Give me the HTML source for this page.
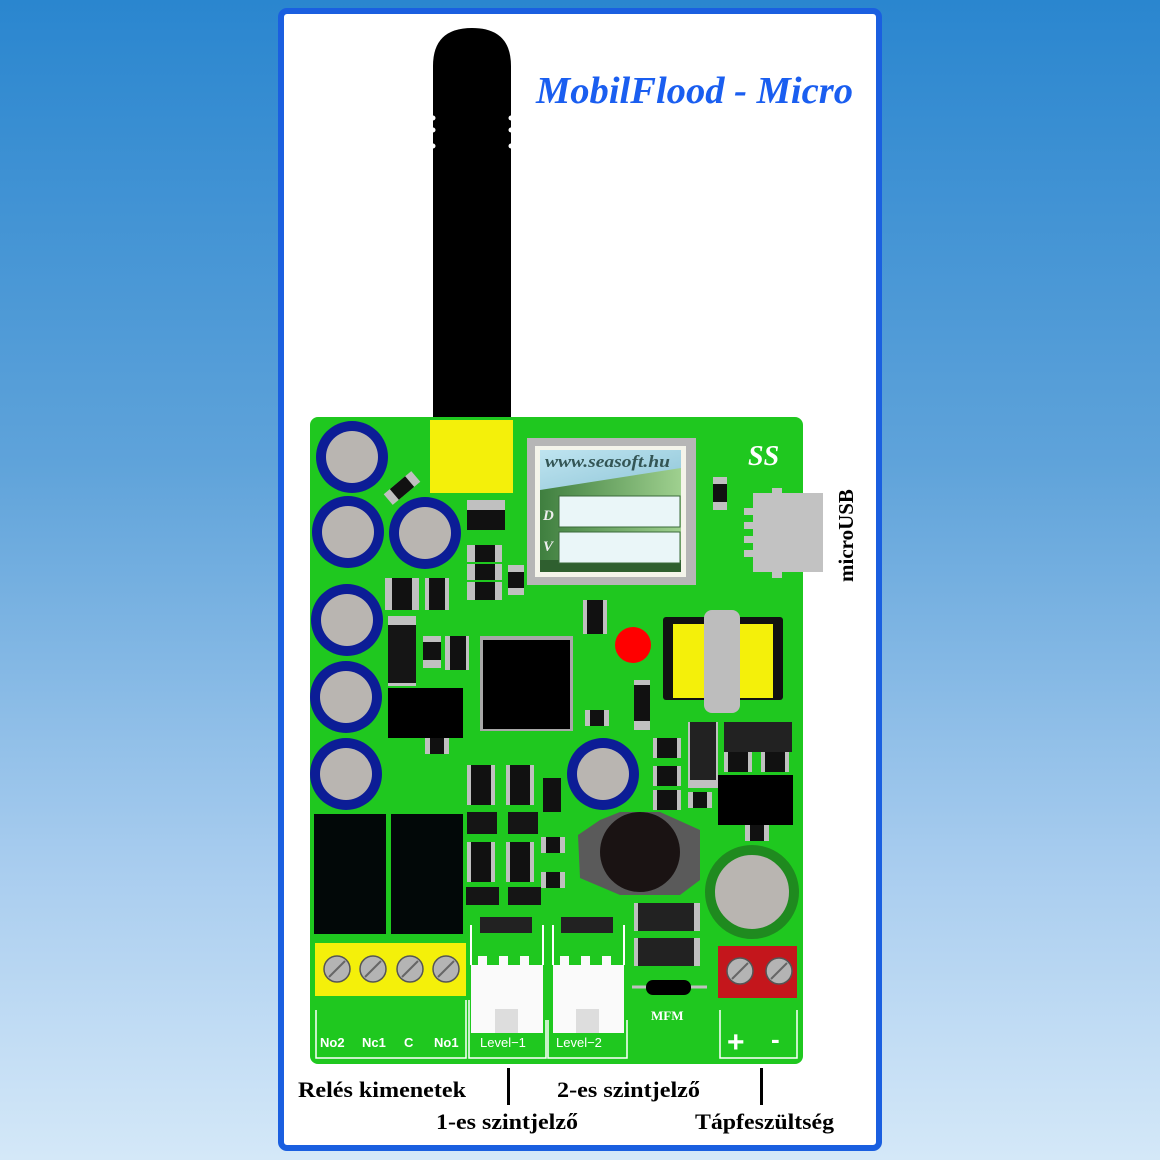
<!DOCTYPE html>
<html><head><meta charset="utf-8"><style>
html,body{margin:0;padding:0}
body{width:1160px;height:1160px;overflow:hidden;background:linear-gradient(#2a86cf 0%,#5fa3da 40%,#a9cdef 75%,#d4e8f8 100%)}
svg{position:absolute;left:0;top:0}
</style></head><body>
<svg width="1160" height="1160" viewBox="0 0 1160 1160" xmlns="http://www.w3.org/2000/svg">
<defs>
<linearGradient id="lab" x1="0" y1="0" x2="1" y2="1">
<stop offset="0" stop-color="#bfe4f0"/><stop offset="1" stop-color="#8fc6d8"/></linearGradient>
<linearGradient id="labg" x1="0" y1="0" x2="1" y2="0">
<stop offset="0" stop-color="#3f7f3f"/><stop offset="1" stop-color="#9fd08f"/></linearGradient>
<g id="cap"><circle r="36" fill="#0c1d96"/><circle r="26" fill="#b9b5b1"/></g>
<g id="scr"><circle r="13" fill="#b4b4b4" stroke="#555" stroke-width="1.5"/><line x1="-8" y1="8" x2="8" y2="-8" stroke="#666" stroke-width="2"/></g>
<g id="sm"><rect x="-12" y="-8" width="24" height="16" fill="#c0c0c0"/><rect x="-7" y="-8" width="14" height="16" fill="#111"/></g>
<g id="sq"><rect x="-14" y="-10" width="28" height="20" fill="#c0c0c0"/><rect x="-10" y="-10" width="20" height="20" fill="#111"/></g>
</defs>
<rect x="281" y="11" width="598" height="1137" rx="6" fill="#fff" stroke="#1a5fe0" stroke-width="6"/>
<!-- antenna -->
<path d="M433 420 V66 Q433 28 472 28 Q511 28 511 66 V420 Z" fill="#000"/>
<g fill="#fff"><circle cx="433" cy="118" r="2.5"/><circle cx="433" cy="130" r="2.5"/><circle cx="433" cy="146" r="2.5"/><circle cx="511" cy="118" r="2.5"/><circle cx="511" cy="130" r="2.5"/><circle cx="511" cy="146" r="2.5"/></g>
<text x="536" y="103" textLength="317" lengthAdjust="spacingAndGlyphs" font-family="Liberation Serif,serif" font-weight="bold" font-style="italic" font-size="38" fill="#1a5ef0">MobilFlood - Micro</text>
<!-- PCB -->
<rect x="310" y="417" width="493" height="647" rx="8" fill="#1fc81f"/>
<rect x="430" y="420" width="83" height="73" fill="#f4f00a"/>
<use href="#cap" x="352" y="457"/><use href="#cap" x="348" y="532"/><use href="#cap" x="425" y="533"/>
<use href="#cap" x="347" y="620"/><use href="#cap" x="346" y="697"/><use href="#cap" x="346" y="774"/><use href="#cap" x="603" y="774"/>
<g transform="translate(402,488) rotate(-40)"><rect x="-18" y="-7" width="36" height="14" fill="#c0c0c0"/><rect x="-10" y="-7" width="20" height="14" fill="#111"/></g>
<!-- label module -->
<rect x="527" y="438" width="169" height="147" fill="#b6b6b6"/>
<rect x="535" y="446" width="151" height="131" fill="#f4f4ea"/>
<rect x="540" y="450" width="141" height="110" fill="url(#labg)"/>
<path d="M540 450 H681 V468 L540 490 Z" fill="url(#lab)"/>
<rect x="540" y="560" width="141" height="12" fill="#2f5f2f"/>
<rect x="559" y="496" width="121" height="31" fill="#eaf6f8" stroke="#3a6a3a"/>
<rect x="559" y="532" width="121" height="31" fill="#eaf6f8" stroke="#3a6a3a"/>
<text x="545" y="467" textLength="125" lengthAdjust="spacingAndGlyphs" font-family="Liberation Serif,serif" font-weight="bold" font-style="italic" font-size="17" fill="#355">www.seasoft.hu</text>
<text x="543" y="520" font-family="Liberation Serif,serif" font-weight="bold" font-style="italic" font-size="15" fill="#eee">D</text>
<text x="543" y="551" font-family="Liberation Serif,serif" font-weight="bold" font-style="italic" font-size="15" fill="#eee">V</text>
<text x="748" y="465" font-family="Liberation Serif,serif" font-weight="bold" font-style="italic" font-size="28" fill="#fff">SS</text>
<rect x="713" y="477" width="14" height="33" fill="#c0c0c0"/><rect x="713" y="484" width="14" height="18" fill="#111"/>
<!-- USB -->
<rect x="753" y="493" width="70" height="79" fill="#c2c2c2"/>
<g fill="#c2c2c2"><rect x="744" y="508" width="9" height="7"/><rect x="744" y="522" width="9" height="7"/><rect x="744" y="536" width="9" height="7"/><rect x="744" y="550" width="9" height="7"/><rect x="772" y="488" width="10" height="8"/><rect x="772" y="570" width="10" height="8"/></g>
<text transform="translate(853,582) rotate(-90)" font-family="Liberation Serif,serif" font-weight="bold" font-size="21" fill="#000">microUSB</text>
<!-- left-top small parts -->
<rect x="467" y="500" width="38" height="30" fill="#c0c0c0"/><rect x="467" y="510" width="38" height="20" fill="#111"/>
<rect x="467" y="545" width="35" height="55" fill="#c0c0c0"/><rect x="475" y="545" width="20" height="55" fill="#111"/>
<line x1="467" y1="563" x2="502" y2="563" stroke="#1fc81f" stroke-width="2"/><line x1="467" y1="581" x2="502" y2="581" stroke="#1fc81f" stroke-width="2"/>
<rect x="508" y="565" width="16" height="30" fill="#c0c0c0"/><rect x="508" y="572" width="16" height="16" fill="#111"/>
<rect x="385" y="578" width="34" height="32" fill="#c0c0c0"/><rect x="392" y="578" width="20" height="32" fill="#111"/>
<rect x="425" y="578" width="24" height="32" fill="#c0c0c0"/><rect x="429" y="578" width="16" height="32" fill="#111"/>
<rect x="388" y="616" width="28" height="70" fill="#c0c0c0"/><rect x="388" y="625" width="28" height="58" fill="#151515"/>
<rect x="423" y="636" width="18" height="32" fill="#c0c0c0"/><rect x="423" y="642" width="18" height="18" fill="#111"/>
<rect x="445" y="636" width="24" height="34" fill="#c0c0c0"/><rect x="450" y="636" width="16" height="34" fill="#111"/>
<rect x="388" y="688" width="75" height="50" fill="#000"/>
<use href="#sm" x="437" y="746"/>
<rect x="480" y="636" width="93" height="95" fill="#a8a8a8"/><rect x="483" y="640" width="87" height="89" fill="#000"/>
<rect x="583" y="600" width="24" height="34" fill="#c0c0c0"/><rect x="587" y="600" width="16" height="34" fill="#111"/>
<circle cx="633" cy="645" r="18" fill="#f00"/>
<use href="#sm" x="597" y="718"/>
<!-- transformer -->
<rect x="663" y="617" width="120" height="83" rx="3" fill="#111"/>
<rect x="673" y="624" width="100" height="74" fill="#f4f00a"/>
<rect x="704" y="610" width="36" height="103" rx="8" fill="#bdbdbd"/>
<rect x="634" y="680" width="16" height="50" fill="#c0c0c0"/><rect x="634" y="685" width="16" height="36" fill="#111"/>
<!-- right-middle parts -->
<use href="#sq" x="667" y="748"/><use href="#sq" x="667" y="776"/><use href="#sq" x="667" y="800"/>
<rect x="688" y="722" width="30" height="66" fill="#c0c0c0"/><rect x="690" y="722" width="26" height="58" fill="#222"/>
<rect x="724" y="722" width="68" height="30" fill="#222"/><use href="#sq" x="738" y="762"/><use href="#sq" x="775" y="762"/>
<use href="#sm" x="700" y="800"/>
<rect x="718" y="775" width="75" height="50" fill="#000"/>
<use href="#sm" x="757" y="833"/>
<!-- lower mid parts -->
<use href="#sq" x="481" y="775"/><use href="#sq" x="520" y="775"/><use href="#sq" x="481" y="795"/><use href="#sq" x="520" y="795"/>
<rect x="543" y="778" width="18" height="34" fill="#111"/>
<rect x="467" y="812" width="30" height="22" fill="#151515"/><rect x="508" y="812" width="30" height="22" fill="#151515"/>
<use href="#sq" x="481" y="852"/><use href="#sq" x="520" y="852"/><use href="#sq" x="481" y="872"/><use href="#sq" x="520" y="872"/>
<use href="#sm" x="553" y="845"/><use href="#sm" x="553" y="880"/>
<rect x="466" y="887" width="33" height="18" fill="#151515"/><rect x="508" y="887" width="33" height="18" fill="#151515"/>
<!-- inductor -->
<polygon points="600,820 620,812 660,812 700,830 700,880 680,895 620,895 580,878 578,835" fill="#5a5a5a"/>
<circle cx="640" cy="852" r="40" fill="#1a1313"/>
<circle cx="752" cy="892" r="42" fill="#b9b5b1" stroke="#1f8a1f" stroke-width="10"/>
<rect x="634" y="903" width="66" height="28" fill="#c0c0c0"/><rect x="638" y="903" width="56" height="28" fill="#222"/>
<rect x="634" y="938" width="66" height="28" fill="#c0c0c0"/><rect x="638" y="938" width="56" height="28" fill="#222"/>
<line x1="632" y1="987" x2="707" y2="987" stroke="#c0c0c0" stroke-width="3"/>
<rect x="646" y="980" width="45" height="15" rx="7" fill="#000"/>
<text x="651" y="1020" font-family="Liberation Serif,serif" font-weight="bold" font-size="13" fill="#fff">MFM</text>
<!-- relays -->
<rect x="314" y="814" width="72" height="120" fill="#020808"/><rect x="391" y="814" width="72" height="120" fill="#020808"/>
<rect x="315" y="943" width="151" height="53" fill="#f4f00a"/>
<use href="#scr" x="337" y="969"/><use href="#scr" x="373" y="969"/><use href="#scr" x="410" y="969"/><use href="#scr" x="446" y="969"/>
<!-- level connectors -->
<g fill="none" stroke="#fff" stroke-width="2"><path d="M471 925 V965 M543 925 V965 M553 925 V965 M624 925 V965"/></g>
<rect x="480" y="917" width="52" height="16" fill="#222"/><rect x="561" y="917" width="52" height="16" fill="#222"/>
<path d="M471 965 H478 V956 H487 V965 H499 V956 H508 V965 H520 V956 H529 V965 H543 V1033 H471 Z" fill="#fafafa"/>
<path d="M553 965 H560 V956 H569 V965 H581 V956 H590 V965 H602 V956 H611 V965 H624 V1033 H553 Z" fill="#fafafa"/>
<rect x="495" y="1009" width="23" height="24" fill="#ddd"/><rect x="576" y="1009" width="23" height="24" fill="#ddd"/>
<!-- power terminal -->
<rect x="718" y="946" width="79" height="52" fill="#c4161c"/>
<use href="#scr" x="740" y="971"/><use href="#scr" x="779" y="971"/>
<!-- silk -->
<g fill="none" stroke="#fff" stroke-width="1.5">
<path d="M316 1010 V1058 H466 V1000"/><path d="M469 1000 V1058 H546 V1020"/><path d="M548 1020 V1058 H627 V1020"/><path d="M720 1010 V1058 H797 V1010"/></g>
<g font-family="Liberation Sans,sans-serif" font-weight="bold" font-size="13" fill="#fff">
<text x="320" y="1047">No2</text><text x="362" y="1047">Nc1</text><text x="404" y="1047">C</text><text x="434" y="1047">No1</text>
<text x="480" y="1047" font-weight="normal">Level−1</text><text x="556" y="1047" font-weight="normal">Level−2</text>
<text x="727" y="1052" font-size="30">+</text><text x="771" y="1048" font-size="26">-</text></g>
<!-- bottom labels -->
<g font-family="Liberation Serif,serif" font-weight="bold" font-size="22" fill="#000" lengthAdjust="spacingAndGlyphs">
<text x="298" y="1097" textLength="168" lengthAdjust="spacingAndGlyphs">Relés kimenetek</text>
<text x="557" y="1097" textLength="143" lengthAdjust="spacingAndGlyphs">2-es szintjelző</text>
<text x="436" y="1129" textLength="142" lengthAdjust="spacingAndGlyphs">1-es szintjelző</text>
<text x="695" y="1129" textLength="139" lengthAdjust="spacingAndGlyphs">Tápfeszültség</text></g>
<rect x="507" y="1068" width="3" height="37" fill="#000"/><rect x="760" y="1068" width="3" height="37" fill="#000"/>
</svg>
</body></html>
